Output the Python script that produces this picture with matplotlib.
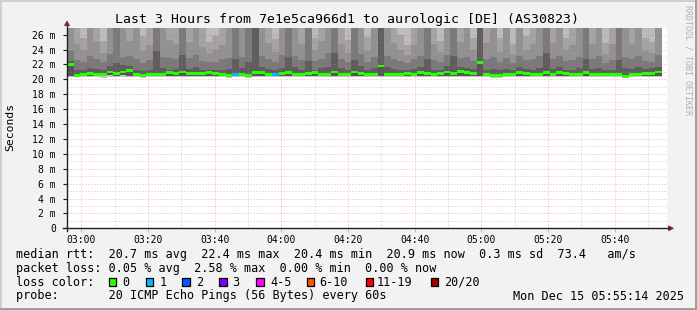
import numpy as np
import matplotlib
matplotlib.use("Agg")
import matplotlib.pyplot as plt
from matplotlib.patches import Rectangle, Polygon
from matplotlib.lines import Line2D

W, H = 697, 310
MONO = "DejaVu Sans Mono"

# ---------------- data ----------------
title = "Last 3 Hours from 7e1e5ca966d1 to aurologic [DE] (AS30823)"
y_label = "Seconds"
x_tick_minutes = [0, 20, 40, 60, 80, 100, 120, 140, 160]          # minutes after 03:00
x_tick_labels = ["03:00", "03:20", "03:40", "04:00", "04:20", "04:40", "05:00", "05:20", "05:40"]
y_ticks = [0, 2, 4, 6, 8, 10, 12, 14, 16, 18, 20, 22, 24, 26]
y_tick_labels = ["0", "2 m", "4 m", "6 m", "8 m", "10 m", "12 m", "14 m", "16 m",
                 "18 m", "20 m", "22 m", "24 m", "26 m"]

start_min = -4.3     # first sample, minutes relative to 03:00
step_min = 1.983     # sample width in minutes

# median rtt (ms)
median = [
    22.0, 20.5, 20.6, 20.8, 20.7, 20.7, 21.0, 20.8, 21.0, 21.2,
    20.6, 20.5, 20.7, 20.7, 20.7, 20.9, 20.8, 21.0, 20.8, 20.8,
    20.8, 20.9, 20.8, 20.7, 20.5, 20.6, 20.7, 20.5, 20.9, 20.9,
    20.7, 20.6, 20.8, 20.9, 20.7, 20.6, 20.8, 20.9, 20.7, 20.7,
    21.0, 20.7, 20.7, 21.0, 20.8, 20.7, 20.7, 21.8, 20.7, 20.7,
    20.7, 20.8, 20.7, 20.9, 20.8, 20.6, 20.8, 21.0, 20.8, 21.1,
    20.9, 20.8, 22.3, 20.6, 20.5, 20.5, 20.6, 20.6, 20.9, 20.8,
    20.6, 20.6, 20.9, 20.7, 20.9, 20.8, 20.6, 20.6, 20.9, 20.7,
    20.6, 20.6, 20.6, 20.6, 20.4, 20.6, 20.7, 20.8, 20.8, 21.0,
]
# lost pings (of 20) per sample
loss = [0] * 90
loss[25] = 1
loss[31] = 1

# smoke: lowest ping, lower inner ping, and band boundaries above the median (ms)
smoke_min = [
    20.3, 20.3, 20.3, 20.3, 20.3, 20.2, 20.3, 20.3, 20.3, 20.3,
    20.3, 20.2, 20.3, 20.3, 20.3, 20.3, 20.3, 20.3, 20.3, 20.3,
    20.3, 20.3, 20.3, 20.3, 20.2, 20.3, 20.3, 20.2, 20.3, 20.3,
    20.3, 20.3, 20.3, 20.3, 20.3, 20.3, 20.3, 20.3, 20.3, 20.3,
    20.3, 20.3, 20.3, 20.3, 20.3, 20.3, 20.3, 20.3, 20.3, 20.3,
    20.3, 20.3, 20.3, 20.3, 20.3, 20.3, 20.3, 20.3, 20.3, 20.3,
    20.3, 20.3, 20.3, 20.3, 20.2, 20.2, 20.3, 20.3, 20.3, 20.3,
    20.3, 20.3, 20.3, 20.3, 20.3, 20.3, 20.3, 20.3, 20.3, 20.3,
    20.3, 20.3, 20.3, 20.3, 20.2, 20.3, 20.3, 20.3, 20.3, 20.3,
]
smoke_low = [
    20.4, 20.45, 20.45, 20.5, 20.45, 20.45, 20.55, 20.5, 20.55, 20.5,
    20.45, 20.45, 20.45, 20.45, 20.45, 20.5, 20.5, 20.5, 20.5, 20.5,
    20.5, 20.5, 20.5, 20.45, 20.45, 20.45, 20.45, 20.45, 20.45, 20.5,
    20.45, 20.45, 20.5, 20.5, 20.45, 20.45, 20.5, 20.5, 20.45, 20.45,
    20.5, 20.45, 20.45, 20.5, 20.5, 20.45, 20.45, 20.45, 20.45, 20.45,
    20.45, 20.5, 20.45, 20.5, 20.5, 20.45, 20.5, 20.5, 20.5, 20.5,
    20.5, 20.5, 20.45, 20.45, 20.4, 20.4, 20.45, 20.45, 20.5, 20.5,
    20.45, 20.45, 20.5, 20.45, 20.5, 20.5, 20.45, 20.45, 20.5, 20.45,
    20.45, 20.45, 20.45, 20.45, 20.4, 20.45, 20.45, 20.5, 20.5, 20.5,
]
smoke_b1 = [
    22.5, 21.2, 21.3, 21.5, 21.4, 21.2, 21.8, 22.2, 21.9, 21.8,
    21.3, 21.1, 21.3, 23.8, 21.5, 21.3, 21.4, 23.3, 21.4, 21.6,
    21.3, 21.2, 21.3, 21.2, 21.4, 22.8, 21.5, 22.4, 28.0, 21.6,
    21.4, 21.2, 21.5, 23.0, 21.6, 21.3, 22.5, 21.3, 21.5, 21.7,
    23.5, 21.5, 21.3, 22.6, 21.8, 21.3, 21.5, 28.0, 21.6, 21.4,
    21.3, 21.2, 21.4, 21.6, 22.7, 21.3, 21.3, 21.8, 23.2, 21.6,
    21.5, 21.4, 28.0, 21.3, 21.4, 21.2, 21.4, 21.2, 21.7, 21.4,
    21.3, 21.5, 23.6, 21.4, 21.7, 21.3, 21.3, 21.5, 22.8, 21.4,
    21.5, 21.2, 21.3, 22.6, 21.5, 21.4, 21.6, 21.4, 21.5, 21.7,
]
smoke_b2 = [
    23.8, 22.6, 22.4, 23.2, 22.8, 22.3, 23.4, 28.0, 23.0, 23.1,
    22.8, 22.2, 22.6, 28.0, 23.0, 22.9, 22.7, 28.0, 22.9, 23.3,
    22.5, 22.3, 22.4, 22.7, 22.9, 28.0, 23.0, 28.0, 29.0, 23.1,
    22.8, 22.4, 23.3, 28.0, 23.2, 22.6, 28.0, 22.5, 22.8, 23.5,
    28.0, 22.7, 22.3, 28.0, 23.4, 22.4, 23.0, 29.0, 23.2, 22.7,
    22.5, 22.2, 22.8, 23.1, 28.0, 22.6, 22.4, 23.3, 28.0, 22.9,
    23.0, 22.5, 29.0, 22.7, 23.0, 22.3, 22.9, 22.2, 23.2, 22.6,
    22.7, 23.1, 28.0, 22.8, 23.2, 22.5, 22.6, 23.0, 28.0, 22.8,
    23.1, 22.2, 22.6, 28.0, 23.0, 22.7, 23.2, 22.5, 22.4, 23.3,
]
smoke_b3 = [
    28.0, 24.8, 23.9, 28.0, 25.0, 23.6, 28.0, 29.0, 28.0, 25.2,
    28.0, 23.8, 24.6, 29.0, 28.0, 25.3, 24.8, 29.0, 25.0, 28.0,
    24.4, 23.5, 24.0, 24.6, 28.0, 29.0, 28.0, 29.0, 29.5, 28.0,
    24.9, 23.7, 28.0, 29.0, 28.0, 24.7, 29.0, 23.9, 25.1, 28.0,
    29.0, 24.8, 23.6, 29.0, 28.0, 23.8, 28.0, 29.5, 28.0, 24.9,
    24.0, 23.3, 24.6, 28.0, 29.0, 24.8, 23.7, 28.0, 29.0, 25.0,
    28.0, 23.9, 29.5, 24.9, 28.0, 23.7, 28.0, 23.4, 28.0, 24.0,
    24.7, 28.0, 29.0, 24.9, 28.0, 23.9, 24.6, 28.0, 29.0, 24.8,
    28.0, 23.4, 24.7, 29.0, 28.0, 24.8, 28.0, 23.8, 23.6, 28.0,
]
smoke_b4 = [
    30.0, 28.5, 25.6, 30.0, 28.5, 25.2, 30.0, 30.0, 30.0, 28.5,
    30.0, 25.8, 28.5, 30.0, 30.0, 28.5, 28.5, 30.0, 28.5, 30.0,
    28.5, 25.0, 25.8, 28.5, 30.0, 30.0, 30.0, 30.0, 30.0, 30.0,
    28.5, 25.4, 30.0, 30.0, 30.0, 28.5, 30.0, 25.6, 28.5, 30.0,
    30.0, 28.5, 25.3, 30.0, 30.0, 25.7, 30.0, 30.0, 30.0, 28.5,
    25.9, 24.6, 28.5, 30.0, 30.0, 28.5, 25.2, 30.0, 30.0, 28.5,
    30.0, 25.6, 30.0, 28.5, 30.0, 25.5, 30.0, 24.8, 30.0, 25.8,
    28.5, 30.0, 30.0, 28.5, 30.0, 25.6, 28.5, 30.0, 30.0, 28.5,
    30.0, 24.9, 28.5, 30.0, 30.0, 28.5, 30.0, 25.5, 25.0, 30.0,
]

loss_labels = ["0", "1", "2", "3", "4-5", "6-10", "11-19", "20/20"]
loss_colors = ["#26ff00", "#00b8ff", "#0059ff", "#7e00ff", "#ff00ff", "#ff5500", "#ff0000", "#a10000"]
loss_upper = [0, 1, 2, 3, 5, 10, 19, 20]

stats_rtt = "median rtt:  20.7 ms avg  22.4 ms max  20.4 ms min  20.9 ms now  0.3 ms sd  73.4   am/s"
stats_loss = "packet loss: 0.05 % avg  2.58 % max  0.00 % min  0.00 % now"
probe_text = "probe:       20 ICMP Echo Pings (56 Bytes) every 60s"
stamp_text = "Mon Dec 15 05:55:14 2025"

# ---------------- layout helpers ----------------
def fx(x):
    return x / W

def fy(y):
    return 1 - y / H

BACK = "#f2f2f2"
SHADE_A = "#cfcfcf"
SHADE_B = "#9e9e9e"
GRID = (0.56, 0.56, 0.56, 0.45)
MGRID = (0.87, 0.31, 0.31, 0.45)
ARROW = "#801f1f"
AXIS = "#1f1f1f"

fig = plt.figure(figsize=(W / 100, H / 100), dpi=100, facecolor=BACK)

# frame shading
fig.add_artist(Rectangle((fx(0), fy(2)), fx(W), 2 / H, transform=fig.transFigure, fc=SHADE_A, ec="none"))
fig.add_artist(Rectangle((fx(0), fy(H)), 2 / W, 1, transform=fig.transFigure, fc=SHADE_A, ec="none"))
fig.add_artist(Rectangle((fx(0), fy(H)), 1, 2 / H, transform=fig.transFigure, fc=SHADE_B, ec="none"))
fig.add_artist(Rectangle((fx(W - 2), fy(H)), 2 / W, 1, transform=fig.transFigure, fc=SHADE_B, ec="none"))

# plot area
PX_L, PX_R, PX_T, PX_B = 67, 667, 28, 228.3
ax = fig.add_axes([fx(PX_L), fy(PX_B), (PX_R - PX_L) / W, (PX_B - PX_T) / H])
ax.set_facecolor("white")
x_per_px = 1 / 3.3333
ax.set_xlim(-4.3, -4.3 + (PX_R - PX_L) * x_per_px)
ax.set_ylim(0, 26.9)
for s in ax.spines.values():
    s.set_visible(False)

n = len(median)
edges = start_min + step_min * np.arange(n + 1)

def ext(a):
    a = np.asarray(a, dtype=float)
    return np.append(a, a[-1])

med_e = ext(median)
TOP = 32.0
layers = [
    (ext(smoke_min), np.full(n + 1, TOP), "#bcbcbc"),
    (med_e, ext(smoke_b4), "#a4a4a4"),
    (med_e, ext(smoke_b3), "#929292"),
    (med_e, ext(smoke_b2), "#7a7a7a"),
    (med_e, ext(smoke_b1), "#5e5e5e"),
    (ext(smoke_min), ext(smoke_low), "#c4c4c4"),
    (ext(smoke_low), med_e, "#555555"),
]
for lo, hi, c in layers:
    ax.fill_between(edges, lo, hi, step="post", color=c, lw=0, zorder=1)

# grid (drawn over the smoke)
dot = (0, (1, 2))
for v in range(1, 27, 2):
    ax.axhline(v, color=GRID, lw=0.72, ls=dot, zorder=2)
for v in range(2, 27, 2):
    ax.axhline(v, color=MGRID, lw=0.72, ls=dot, zorder=2)
for m in range(-10, 180, 10):
    if m % 20:
        ax.axvline(m, color=GRID, lw=0.72, ls=dot, zorder=2)
for m in x_tick_minutes:
    ax.axvline(m, color=MGRID, lw=0.72, ls=dot, zorder=2)

# median drawn as a thin band, coloured by loss
def loss_color(l):
    for up, c in zip(loss_upper, loss_colors):
        if l <= up:
            return c
    return loss_colors[-1]

band = 0.38
ax.bar(edges[:-1], band, bottom=np.asarray(median) - band / 2, width=step_min, align="edge",
       color=[loss_color(l) for l in loss], lw=0, zorder=3)

# ticks
ax.set_yticks(y_ticks)
ax.set_yticklabels(y_tick_labels, family=MONO, fontsize=7)
ax.set_xticks(x_tick_minutes)
ax.set_xticklabels(x_tick_labels, family=MONO, fontsize=7)
ax.tick_params(axis="y", length=3, width=0.8, color=AXIS, pad=5)
ax.tick_params(axis="x", length=3, width=0.8, color=MGRID, pad=2)

# axes lines + arrows
fig.add_artist(Line2D([fx(63), fx(669)], [fy(PX_B), fy(PX_B)], transform=fig.transFigure, color=AXIS, lw=1.0))
fig.add_artist(Line2D([fx(PX_L), fx(PX_L)], [fy(PX_B + 3), fy(25.5)], transform=fig.transFigure, color=AXIS, lw=1.0))
fig.add_artist(Polygon([[fx(64.5), fy(25.7)], [fx(69.5), fy(25.7)], [fx(67), fy(21.0)]],
                       closed=True, transform=fig.transFigure, fc=ARROW, ec=ARROW, lw=0.5))
fig.add_artist(Polygon([[fx(668.5), fy(PX_B - 2.5)], [fx(668.5), fy(PX_B + 2.5)], [fx(673.5), fy(PX_B)]],
                       closed=True, transform=fig.transFigure, fc=ARROW, ec=ARROW, lw=0.5))

# texts
fig.text(fx(347), fy(19.5), title, family=MONO, fontsize=9.5, ha="center", va="center")
fig.text(fx(10), fy(127), y_label, family=MONO, fontsize=8.2, ha="center", va="center", rotation=90)
fig.text(fx(688), fy(60), "RRDTOOL / TOBI OETIKER", family=MONO, fontsize=6, color="#b0b0b0",
         ha="center", va="center", rotation=270)

fig.text(fx(16), fy(254.3), stats_rtt, family=MONO, fontsize=8.5, ha="left", va="center")
fig.text(fx(16), fy(268.3), stats_loss, family=MONO, fontsize=8.5, ha="left", va="center")
fig.text(fx(16), fy(282.3), "loss color:", family=MONO, fontsize=8.5, ha="left", va="center")
box_x = [108.7, 145.7, 182.3, 219.3, 256.3, 306.7, 365.7, 430.7]
lab_x = [122.5, 159.2, 195.9, 232.5, 269.9, 319.2, 376.5, 444.2]
for bx, lx, lab, col in zip(box_x, lab_x, loss_labels, loss_colors):
    fig.add_artist(Rectangle((fx(bx), fy(286.0)), 7.3 / W, 8.3 / H, transform=fig.transFigure,
                             fc=col, ec="black", lw=0.9))
    fig.text(fx(lx), fy(282.3), lab, family=MONO, fontsize=8.5, ha="left", va="center")
fig.text(fx(16), fy(296), probe_text, family=MONO, fontsize=8.5, ha="left", va="center")
fig.text(fx(512.7), fy(296), stamp_text, family=MONO, fontsize=8.5, ha="left", va="center")

fig.savefig("out.png", dpi=100, facecolor=BACK)
